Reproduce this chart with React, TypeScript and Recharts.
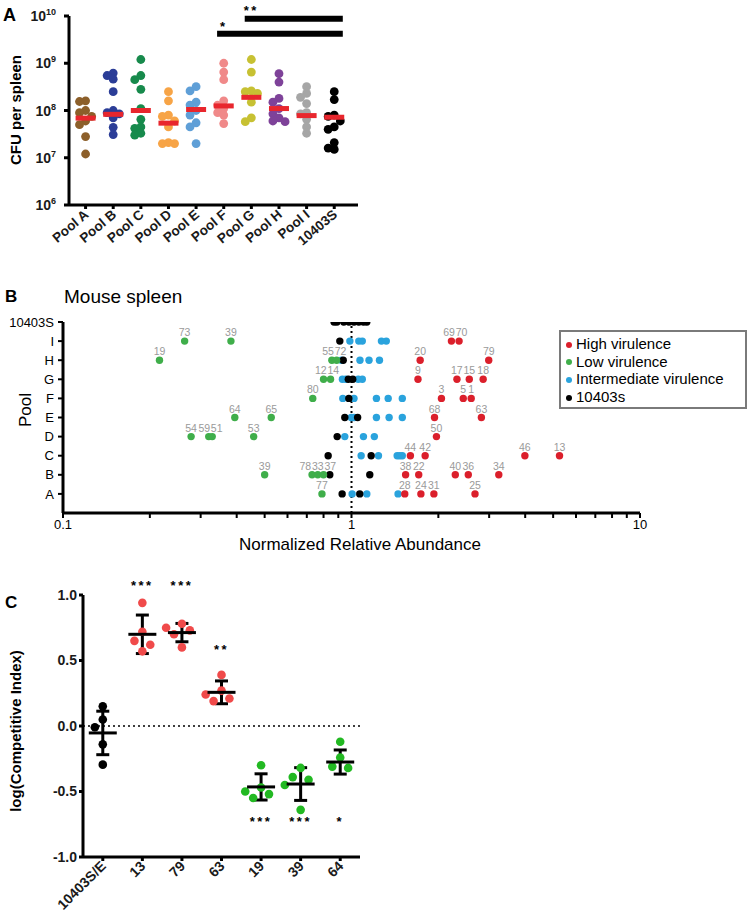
import React from 'react';
import { ScatterChart, Scatter, XAxis, YAxis, ReferenceLine, ReferenceDot, Legend, ErrorBar } from 'recharts';

const FONT = '"Liberation Sans", Arial, sans-serif';

// ---------- A: CFU per spleen ----------
const pools = ['Pool A', 'Pool B', 'Pool C', 'Pool D', 'Pool E', 'Pool F', 'Pool G', 'Pool H', 'Pool I', '10403S'];
const poolColors = ['#8c5f2a', '#2b3d97', '#178a4c', '#f7a446', '#5f9fd7', '#f08989', '#c7c133', '#7e4299', '#a6a6a6', '#000000'];
const cfuPoolA = [1.6e8, 1.55e8, 1.0e8, 9e7, 7.5e7, 6e7, 5e7, 2.8e7, 1.2e7];
const cfuPoolB = [6.2e8, 5.5e8, 4.6e8, 2.5e8, 1.0e8, 9e7, 8.5e7, 7e7, 4.4e7, 3.1e7];
const cfuPoolC = [1.2e9, 5.5e8, 4.5e8, 2.8e8, 1.1e8, 6.5e7, 4.5e7, 4.2e7, 3.3e7, 3e7];
const cfuPoolD = [2.5e8, 1.6e8, 8e7, 7.5e7, 6e7, 4.5e7, 2.1e7, 2e7, 2e7];
const cfuPoolE = [3.2e8, 2.6e8, 1.5e8, 1.3e8, 1.0e8, 8e7, 5.5e7, 4.5e7, 2e7];
const cfuPoolF = [1.0e9, 6.5e8, 4.5e8, 1.6e8, 1.3e8, 1.1e8, 9e7, 8e7, 5.3e7];
const cfuPoolG = [1.2e9, 6.5e8, 2.6e8, 2.5e8, 2.3e8, 1.5e8, 7e7, 5.8e7];
const cfuPoolH = [6e8, 4e8, 1.8e8, 1.5e8, 1.1e8, 8.5e7, 7e7, 6e7, 5.8e7];
const cfuPoolI = [3.2e8, 2.3e8, 1.9e8, 1.4e8, 9e7, 8.5e7, 6.5e7, 4.5e7, 3.3e7];
const cfu10403S = [2.5e8, 1.7e8, 8e7, 7.5e7, 6e7, 4.5e7, 4e7, 2.1e7, 1.6e7, 1.5e7];
const cfuByPool = [cfuPoolA, cfuPoolB, cfuPoolC, cfuPoolD, cfuPoolE, cfuPoolF, cfuPoolG, cfuPoolH, cfuPoolI, cfu10403S];
const cfuMedians = [6.9e7, 8.3e7, 1.0e8, 5.4e7, 1.05e8, 1.25e8, 1.9e8, 1.1e8, 7.8e7, 7.2e7];
const cfuTicks = [1e6, 1e7, 1e8, 1e9, 1e10];
const cfuComparisons = [
  { from: 'Pool F', to: '10403S', stars: '*', level: 10 ** 9.625, starLevel: 10 ** 9.834 },
  { from: 'Pool G', to: '10403S', stars: '**', level: 10 ** 9.94, starLevel: 10 ** 10.17 },
];

// ---------- B: relative abundance ----------
const rowNames = ['A', 'B', 'C', 'D', 'E', 'F', 'G', 'H', 'I', '10403S'];
const abundanceTicks = [0.1, 0.2, 0.3, 0.4, 0.5, 0.6, 0.7, 0.8, 0.9, 1, 2, 3, 4, 5, 6, 7, 8, 9, 10];
const abundanceLabels = [0.1, 1, 10];
// [pool, abundance, mutant id]
const highVirulence: [string, number, number][] = [
  ['A', 1.53, 28], ['A', 1.74, 24], ['A', 1.93, 31], ['A', 2.68, 25],
  ['B', 1.54, 38], ['B', 1.71, 22], ['B', 2.29, 40], ['B', 2.54, 36], ['B', 3.24, 34],
  ['C', 1.6, 44], ['C', 1.8, 42], ['C', 3.99, 46], ['C', 5.26, 13],
  ['D', 1.97, 50],
  ['E', 1.94, 68], ['E', 2.82, 63],
  ['F', 2.05, 3], ['F', 2.44, 5], ['F', 2.6, 1],
  ['G', 1.7, 9], ['G', 2.32, 17], ['G', 2.56, 15], ['G', 2.86, 18],
  ['H', 1.73, 20], ['H', 2.99, 79],
  ['I', 2.22, 69], ['I', 2.36, 70],
];
const lowVirulence: [string, number, number][] = [
  ['A', 0.79, 77],
  ['B', 0.5, 39], ['B', 0.73, 78], ['B', 0.764, 33], ['B', 0.8, 37],
  ['D', 0.278, 54], ['D', 0.32, 59], ['D', 0.329, 51], ['D', 0.458, 53],
  ['E', 0.394, 64], ['E', 0.527, 65],
  ['F', 0.734, 80],
  ['G', 0.8, 12], ['G', 0.846, 14],
  ['H', 0.216, 19], ['H', 0.855, 55], ['H', 0.888, 72],
  ['I', 0.264, 73], ['I', 0.382, 39],
];
const intermediateVirulence: [string, number][] = [
  ['A', 1.005], ['A', 1.13], ['A', 1.45],
  ['C', 1.08], ['C', 1.24], ['C', 1.44], ['C', 1.47], ['C', 1.5],
  ['D', 0.948], ['D', 1.1], ['D', 1.2],
  ['E', 0.998], ['E', 1.02], ['E', 1.22], ['E', 1.35], ['E', 1.5],
  ['F', 0.933], ['F', 1.02], ['F', 1.22], ['F', 1.34], ['F', 1.5],
  ['G', 0.93], ['G', 0.955], ['G', 1.055], ['G', 1.09],
  ['H', 0.923], ['H', 1.07], ['H', 1.15], ['H', 1.25],
  ['I', 0.987], ['I', 1.06], ['I', 1.09], ['I', 1.27], ['I', 1.32],
];
const wildType: [string, number][] = [
  ['A', 0.928], ['A', 1.068], ['B', 0.841], ['B', 1.157], ['C', 0.83], ['C', 1.17],
  ['D', 0.892], ['E', 0.948], ['E', 1.05], ['F', 0.979], ['G', 0.975], ['G', 1.01],
  ['H', 0.936], ['I', 0.911],
  ['10403S', 0.87], ['10403S', 0.89], ['10403S', 0.94], ['10403S', 0.98],
  ['10403S', 1.02], ['10403S', 1.06], ['10403S', 1.1], ['10403S', 1.13],
];
const legendOrder = ['High virulence', 'Low virulence', 'Intermediate virulence', '10403s'];

// ---------- C: competitive index ----------
const strains = ['10403S/E', '13', '79', '63', '19', '39', '64'];
const strainColors = ['#000000', '#f04a4a', '#f04a4a', '#f04a4a', '#22b922', '#22b922', '#22b922'];
const ci10403SE = [0.15, 0.05, -0.01, -0.14, -0.295];
const ci13 = [0.94, 0.72, 0.65, 0.62, 0.57];
const ci79 = [0.78, 0.75, 0.73, 0.7, 0.6];
const ci63 = [0.39, 0.27, 0.24, 0.21, 0.19];
const ci19 = [-0.3, -0.47, -0.5, -0.52, -0.55];
const ci39 = [-0.32, -0.39, -0.41, -0.45, -0.64];
const ci64 = [-0.12, -0.24, -0.31, -0.32];
const ciByStrain = [ci10403SE, ci13, ci79, ci63, ci19, ci39, ci64];
const ciMeans = [-0.053, 0.7, 0.713, 0.257, -0.465, -0.443, -0.275];
const ciSDs = [0.166, 0.147, 0.07, 0.087, 0.1, 0.125, 0.092];
const ciStars = ['', '***', '***', '**', '***', '***', '*'];
const ciStarLevels = [0, 1.09, 1.09, 0.6, -0.712, -0.712, -0.712];
const ciTicks = [-1, -0.5, 0, 0.5, 1];

// simple beeswarm: pick the first horizontal step that does not collide
function swarm(py: number[], catPx: number, diam: number, steps: number[]) {
  const placed: { dx: number; py: number }[] = [];
  return py.map((y) => {
    let chosen = steps[steps.length - 1];
    for (const s of steps) {
      if (placed.every((p) => Math.hypot((p.dx - s) * catPx, p.py - y) >= diam)) {
        chosen = s;
        break;
      }
    }
    placed.push({ dx: chosen, py: y });
    return chosen;
  });
}

// push neighbouring id labels apart so that they read like "5572" instead of overlapping
function spreadLabels(pts: { x: number; y: number; id: number }[], pxPerDecade: number, digitW: number) {
  const items = pts.map((p) => ({ ...p, px: Math.log10(p.x) * pxPerDecade, w: String(p.id).length * digitW + 0.8, lx: 0 }));
  const rows = new Map<number, typeof items>();
  items.forEach((it) => rows.set(it.y, [...(rows.get(it.y) ?? []), it]));
  rows.forEach((row) => {
    row.sort((a, b) => a.px - b.px);
    let cluster: typeof items = [];
    const layout = (c: typeof items) => {
      const centers: number[] = [];
      c.forEach((it, k) => centers.push(k === 0 ? 0 : centers[k - 1] + (c[k - 1].w + it.w) / 2));
      const shift = c.reduce((s, it) => s + it.px, 0) / c.length - centers.reduce((s, v) => s + v, 0) / c.length;
      c.forEach((it, k) => (it.lx = centers[k] + shift));
    };
    row.forEach((it) => {
      const last = cluster[cluster.length - 1];
      if (last && it.px - it.w / 2 < last.lx + last.w / 2) {
        cluster.push(it);
      } else {
        cluster = [it];
      }
      layout(cluster);
    });
  });
  return items.map((it) => ({ x: it.x, y: it.y, id: it.id, ldx: it.lx - it.px }));
}

const dot = (r: number, color: string) => (p: any) => <circle cx={p.cx} cy={p.cy} r={r} fill={color} />;
const labelledDot = (r: number, color: string) => (p: any) => {
  const d = p.payload ?? p;
  return (
    <g>
      <circle cx={p.cx} cy={p.cy} r={r} fill={color} />
      <text x={p.cx + d.ldx} y={p.cy - 5} textAnchor="middle" fontSize={10.5} fontFamily={FONT} fill="#9a9a9a">{d.id}</text>
    </g>
  );
};
const starShape = (stars: string) => (p: any) => (
  <text x={p.cx} y={p.cy + 7} textAnchor="middle" fontSize={13} fontWeight="bold" letterSpacing={2.5}
    fontFamily={FONT} fill="#000">{stars}</text>
);

function PoolTick(p: any) {
  const x = p.x + 4, y = p.y + 5;
  return (
    <text x={x} y={y} transform={`rotate(-40 ${x} ${y})`} textAnchor="end" fontSize={13.5}
      fontWeight="bold" fontFamily={FONT} fill="#1a1a1a">{pools[p.payload.value]}</text>
  );
}

function PowTick(p: any) {
  const e = Math.round(Math.log10(p.payload.value));
  return (
    <text x={p.x} y={p.y + 5} textAnchor="end" fontSize={14} fontWeight="bold" fontFamily={FONT} fill="#1a1a1a">
      10<tspan fontSize={9} dy={-6}>{e}</tspan>
    </text>
  );
}

function PanelA() {
  const series = cfuByPool.map((vals, i) => {
    const dx = swarm(vals.map((v) => -Math.log10(v) * 47.7), 27.7, 6, [0, -0.22, 0.22, -0.4, 0.4]);
    return vals.map((v, k) => ({ x: i + dx[k], y: v }));
  });
  const medians = cfuMedians.map((m, i) => ({ x: i, y: m }));
  return (
    <ScatterChart width={370} height={300} margin={{ top: 16, right: 12, bottom: 55, left: 19 }}>
      <XAxis type="number" dataKey="x" domain={[-0.6, 9.86]} allowDataOverflow ticks={pools.map((_, i) => i)}
        interval={0} height={40} tick={<PoolTick />} tickSize={4}
        axisLine={{ stroke: '#000', strokeWidth: 3 }} tickLine={{ stroke: '#000', strokeWidth: 3 }} />
      <YAxis type="number" dataKey="y" scale="log" domain={[1e6, 1e10]} allowDataOverflow ticks={cfuTicks}
        interval={0} width={50} tick={<PowTick />} tickSize={5} tickMargin={8}
        axisLine={{ stroke: '#000', strokeWidth: 3 }} tickLine={{ stroke: '#000', strokeWidth: 3 }} />
      {series.map((d, i) => (
        <Scatter key={pools[i]} data={d} fill={poolColors[i]} shape={dot(4.4, poolColors[i])} isAnimationActive={false} />
      ))}
      <Scatter data={medians} fill="#e8262d" isAnimationActive={false}
        shape={(p: any) => <rect x={p.cx - 10} y={p.cy - 2.5} width={20} height={5} fill="#e8262d" />} />
      {cfuComparisons.map((c) => (
        <ReferenceLine key={c.stars} stroke="#000" strokeWidth={6}
          segment={[{ x: pools.indexOf(c.from) - 0.24, y: c.level }, { x: pools.indexOf(c.to) + 0.31, y: c.level }]} />
      ))}
      {cfuComparisons.map((c) => (
        <ReferenceDot key={'s' + c.stars} x={pools.indexOf(c.from)} y={c.starLevel} r={1} ifOverflow="visible"
          shape={starShape(c.stars)} />
      ))}
    </ScatterChart>
  );
}

function LegendBox(props: any) {
  const items = [...(props.payload ?? [])].sort(
    (a: any, b: any) => legendOrder.indexOf(a.value) - legendOrder.indexOf(b.value),
  );
  return (
    <div style={{ border: '2px solid #7a7a7a', width: 188, height: 79, boxSizing: 'border-box', padding: '3px 0 0 5px',
      fontFamily: FONT, fontSize: 15, lineHeight: '17.6px', background: '#fff', color: '#000' }}>
      {items.map((it: any) => (
        <div key={it.value} style={{ display: 'flex', alignItems: 'center', whiteSpace: 'nowrap' }}>
          <span style={{ width: 6, height: 6, borderRadius: 3, background: it.color, marginRight: 4, marginTop: 2 }} />
          {it.value}
        </div>
      ))}
    </div>
  );
}

function PanelB() {
  const withId = (list: [string, number, number][]) =>
    spreadLabels(list.map(([row, v, id]) => ({ x: v, y: rowNames.indexOf(row), id })), 288.5, 5.84);
  const plain = (list: [string, number][]) => list.map(([row, v]) => ({ x: v, y: rowNames.indexOf(row) }));
  return (
    <ScatterChart width={750} height={270} margin={{ top: 32, right: 110, bottom: 17, left: 13 }}>
      <XAxis type="number" dataKey="x" scale="log" domain={[0.1, 10]} allowDataOverflow ticks={abundanceTicks}
        interval={0} height={30} tickSize={5}
        tickFormatter={(v: number) => (abundanceLabels.includes(v) ? String(v) : '')}
        tick={{ fill: '#000', fontSize: 13, fontFamily: FONT }}
        axisLine={{ stroke: '#000', strokeWidth: 3 }} tickLine={{ stroke: '#000', strokeWidth: 2 }} />
      <YAxis type="number" dataKey="y" domain={[-1, 9]} allowDataOverflow ticks={rowNames.map((_, i) => i)}
        interval={0} width={50} tickSize={5} tickMargin={4} tickFormatter={(i: number) => rowNames[i]}
        tick={{ fill: '#000', fontSize: 13, fontFamily: FONT }}
        axisLine={{ stroke: '#000', strokeWidth: 3 }} tickLine={{ stroke: '#000', strokeWidth: 2 }} />
      <ReferenceLine x={1} stroke="#000" strokeWidth={2} strokeDasharray="2 3" />
      <Scatter name="Intermediate virulence" data={plain(intermediateVirulence)} fill="#2aa3dd"
        shape={dot(3.7, '#2aa3dd')} isAnimationActive={false} />
      <Scatter name="10403s" data={plain(wildType)} fill="#000000" shape={dot(3.7, '#000000')} isAnimationActive={false} />
      <Scatter name="Low virulence" data={withId(lowVirulence)} fill="#3fae4a" shape={labelledDot(3.7, '#3fae4a')}
        isAnimationActive={false} />
      <Scatter name="High virulence" data={withId(highVirulence)} fill="#db1f2b" shape={labelledDot(3.7, '#db1f2b')}
        isAnimationActive={false} />
      <Legend content={<LegendBox />} layout="horizontal" verticalAlign="middle" align="center"
        wrapperStyle={{ left: 559, top: 40, width: 188, height: 79 }} />
    </ScatterChart>
  );
}

function StrainTick(p: any) {
  const x = p.x + 4, y = p.y + 4;
  return (
    <text x={x} y={y} transform={`rotate(-45 ${x} ${y})`} textAnchor="end" fontSize={14}
      fontWeight="bold" fontFamily={FONT} fill="#1a1a1a">{strains[p.payload.value]}</text>
  );
}

function PanelC() {
  const groups = ciByStrain.map((vals, i) => {
    const dx = swarm(vals.map((v) => -v * 131), 39.5, 10, [0, -0.2, 0.2, -0.4, 0.4]);
    return vals.map((v, k) => ({ x: i + dx[k], y: v }));
  });
  const means = ciMeans.map((m, i) => ({ x: i, y: m, sd: ciSDs[i] }));
  return (
    <ScatterChart width={380} height={349} margin={{ top: 25, right: 20, bottom: 7, left: 33 }}>
      <XAxis type="number" dataKey="x" domain={[-0.5, 6.5]} allowDataOverflow ticks={strains.map((_, i) => i)}
        interval={0} height={55} tickSize={4} tick={<StrainTick />}
        axisLine={{ stroke: '#000', strokeWidth: 3 }} tickLine={{ stroke: '#000', strokeWidth: 3 }} />
      <YAxis type="number" dataKey="y" domain={[-1, 1]} allowDataOverflow ticks={ciTicks} interval={0} width={50}
        tickSize={4} tickMargin={2} tickFormatter={(v: number) => v.toFixed(1)}
        tick={{ fill: '#1a1a1a', fontSize: 14, fontWeight: 'bold', fontFamily: FONT }}
        axisLine={{ stroke: '#000', strokeWidth: 3 }} tickLine={{ stroke: '#000', strokeWidth: 3 }} />
      <ReferenceLine y={0} stroke="#000" strokeWidth={1.5} strokeDasharray="2 3" />
      {groups.map((d, i) => (
        <Scatter key={strains[i]} data={d} fill={strainColors[i]} shape={dot(4.3, strainColors[i])} isAnimationActive={false} />
      ))}
      <Scatter data={means} fill="#000" isAnimationActive={false}
        shape={(p: any) => <line x1={p.cx - 14} x2={p.cx + 14} y1={p.cy} y2={p.cy} stroke="#000" strokeWidth={3} />}>
        <ErrorBar dataKey="sd" direction="y" width={6.5} stroke="#000" strokeWidth={3} />
      </Scatter>
      {ciStars.map((s, i) =>
        s ? <ReferenceDot key={strains[i]} x={i} y={ciStarLevels[i]} r={1} ifOverflow="visible" shape={starShape(s)} /> : null,
      )}
    </ScatterChart>
  );
}

export default function App() {
  const t = { fontFamily: FONT, fill: '#000' };
  return (
    <div style={{ position: 'absolute', left: 0, top: 0, width: 750, height: 919, background: '#fff' }}>
      <div style={{ position: 'absolute', left: 0, top: 0 }}><PanelA /></div>
      <div style={{ position: 'absolute', left: 0, top: 290 }}><PanelB /></div>
      <div style={{ position: 'absolute', left: 0, top: 570 }}><PanelC /></div>
      <svg width={750} height={919} style={{ position: 'absolute', left: 0, top: 0, pointerEvents: 'none' }}>
        <text x={3} y={21} fontSize={18} fontWeight="bold" {...t}>A</text>
        <text x={21} y={110} fontSize={15} fontWeight="bold" textAnchor="middle" transform="rotate(-90 21 110)" {...t}>CFU per spleen</text>
        <text x={5} y={302} fontSize={17} fontWeight="bold" {...t}>B</text>
        <text x={64} y={303} fontSize={19} {...t}>Mouse spleen</text>
        <text x={30.5} y={410} fontSize={17} textAnchor="middle" transform="rotate(-90 30.5 410)" {...t}>Pool</text>
        <text x={360} y={550} fontSize={17} textAnchor="middle" {...t}>Normalized Relative Abundance</text>
        <text x={5} y={608} fontSize={17} fontWeight="bold" {...t}>C</text>
        <text x={21} y={731} fontSize={15} fontWeight="bold" textAnchor="middle" transform="rotate(-90 21 731)" {...t}>log(Competitive Index)</text>
      </svg>
    </div>
  );
}
